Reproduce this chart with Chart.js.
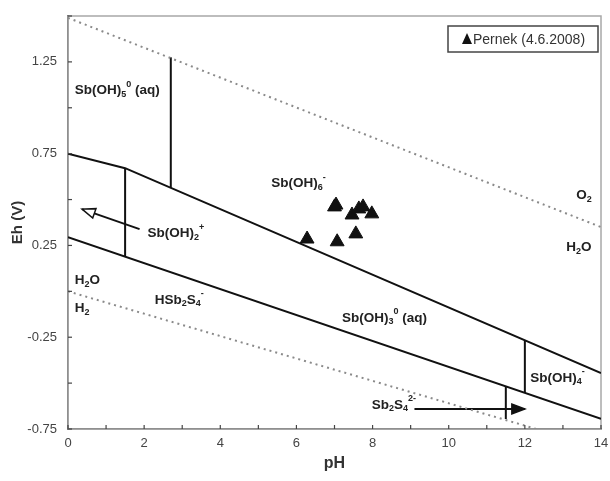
<!DOCTYPE html>
<html>
<head>
<meta charset="utf-8">
<script src="https://cdn.jsdelivr.net/npm/chart.js@4.4.0/dist/chart.umd.min.js"></script>
<style>html,body{margin:0;padding:0;background:#fff}</style>
</head>
<body>
<canvas id="ehph" width="610" height="481"></canvas>
<script>
// water stability lines (dotted)
const waterO2PH = [0, 14];
const waterO2Eh = [1.49, 0.35];
const waterH2PH = [0, 12.3];
const waterH2Eh = [0, -0.75];

// Sb(V)/Sb(III) boundary and Sb(III)/sulfide boundary
const upperPH = [0, 1.5, 14];
const upperEh = [0.75, 0.671, -0.445];
const lowerPH = [0, 14];
const lowerEh = [0.295, -0.695];

// vertical boundaries
const vert15PH = [1.5, 1.5];
const vert15Eh = [0.671, 0.189];
const vert27PH = [2.7, 2.7];
const vert27Eh = [0.564, 1.275];
const vert12PH = [12, 12];
const vert12Eh = [-0.267, -0.554];
const vert115PH = [11.5, 11.5];
const vert115Eh = [-0.518, -0.695];

// arrows
const arrowSb2S4PH = [9.1, 12.0];
const arrowSb2S4Eh = [-0.641, -0.641];
const arrowSbOH2PH = [1.88, 0.37];
const arrowSbOH2Eh = [0.339, 0.448];

// measured samples
const samplePH = [7.04, 7.0, 6.28, 7.07, 7.56, 7.46, 7.64, 7.75, 7.98];
const sampleEh = [0.47, 0.46, 0.285, 0.27, 0.313, 0.416, 0.449, 0.46, 0.422];

const xTicks = [0, 2, 4, 6, 8, 10, 12, 14];
const yTickLabels = [-0.75, -0.25, 0.25, 0.75, 1.25];

// field labels: [pH, Eh, segments]
const fieldLabels = [
  [0.18, 1.096, [['Sb(OH)', ''], ['5', 'sub'], ['0', 'sup'], [' (aq)', '']]],
  [5.34, 0.59, [['Sb(OH)', ''], ['6', 'sub'], ['-', 'sup']]],
  [2.09, 0.317, [['Sb(OH)', ''], ['2', 'sub'], ['+', 'sup']]],
  [0.18, 0.061, [['H', ''], ['2', 'sub'], ['O', '']]],
  [0.18, -0.091, [['H', ''], ['2', 'sub']]],
  [2.28, -0.047, [['HSb', ''], ['2', 'sub'], ['S', ''], ['4', 'sub'], ['-', 'sup']]],
  [7.2, -0.145, [['Sb(OH)', ''], ['3', 'sub'], ['0', 'sup'], [' (aq)', '']]],
  [12.14, -0.472, [['Sb(OH)', ''], ['4', 'sub'], ['-', 'sup']]],
  [7.98, -0.619, [['Sb', ''], ['2', 'sub'], ['S', ''], ['4', 'sub'], ['2-', 'sup']]],
  [13.35, 0.524, [['O', ''], ['2', 'sub']]],
  [13.09, 0.241, [['H', ''], ['2', 'sub'], ['O', '']]]
];

const FONT = '"Liberation Sans", Arial, sans-serif';

function pts(xs, ys) {
  return xs.map((x, i) => ({x: x, y: ys[i]}));
}

function lineSet(xs, ys, extra) {
  return Object.assign({
    data: pts(xs, ys),
    showLine: true,
    pointRadius: 0,
    borderColor: '#111',
    borderWidth: 2,
    fill: false
  }, extra || {});
}

const dotted = {borderColor: '#8a8a8a', borderDash: [2, 4], borderWidth: 2};

const datasets = [
  lineSet(waterO2PH, waterO2Eh, dotted),
  lineSet(waterH2PH, waterH2Eh, dotted),
  lineSet(upperPH, upperEh),
  lineSet(lowerPH, lowerEh),
  lineSet(vert15PH, vert15Eh),
  lineSet(vert27PH, vert27Eh),
  lineSet(vert12PH, vert12Eh),
  lineSet(vert115PH, vert115Eh),
  lineSet(arrowSb2S4PH, arrowSb2S4Eh, {arrow: 'solid'}),
  lineSet(arrowSbOH2PH, arrowSbOH2Eh, {arrow: 'open'}),
  {
    label: 'Pernek (4.6.2008)',
    data: pts(samplePH, sampleEh),
    pointStyle: 'triangle',
    pointRadius: 8,
    pointHoverRadius: 8,
    backgroundColor: '#111',
    borderColor: '#111',
    borderWidth: 1
  }
];

const diagramPlugin = {
  id: 'diagram',
  beforeDatasetsDraw(chart) {
    const {ctx, chartArea: a} = chart;
    ctx.save();
    ctx.strokeStyle = '#a8a8a8';
    ctx.lineWidth = 1.5;
    ctx.strokeRect(a.left, a.top, a.right - a.left, a.bottom - a.top);
    ctx.restore();
  },
  afterDatasetsDraw(chart) {
    const {ctx, chartArea: a} = chart;
    const xs = chart.scales.x, ys = chart.scales.y;
    ctx.save();
    // arrow heads
    chart.data.datasets.forEach((ds, i) => {
      if (!ds.arrow) return;
      const els = chart.getDatasetMeta(i).data;
      const p1 = els[els.length - 2], p2 = els[els.length - 1];
      const ang = Math.atan2(p2.y - p1.y, p2.x - p1.x);
      const L = 13, W = 5;
      ctx.beginPath();
      ctx.moveTo(p2.x, p2.y);
      ctx.lineTo(p2.x - L * Math.cos(ang) + W * Math.sin(ang), p2.y - L * Math.sin(ang) - W * Math.cos(ang));
      ctx.lineTo(p2.x - L * Math.cos(ang) - W * Math.sin(ang), p2.y - L * Math.sin(ang) + W * Math.cos(ang));
      ctx.closePath();
      ctx.lineWidth = 1.5;
      ctx.strokeStyle = '#111';
      ctx.fillStyle = ds.arrow === 'solid' ? '#111' : '#fff';
      ctx.fill();
      ctx.stroke();
    });
    // inside tick marks
    ctx.strokeStyle = '#444';
    ctx.lineWidth = 1.2;
    xs.ticks.forEach(t => {
      const px = xs.getPixelForValue(t.value);
      ctx.beginPath();
      ctx.moveTo(px, a.bottom);
      ctx.lineTo(px, a.bottom - 4);
      ctx.stroke();
    });
    ys.ticks.forEach(t => {
      const py = ys.getPixelForValue(t.value);
      ctx.beginPath();
      ctx.moveTo(a.left, py);
      ctx.lineTo(a.left + 4, py);
      ctx.stroke();
    });
    // field labels
    ctx.fillStyle = '#222';
    ctx.textBaseline = 'middle';
    ctx.textAlign = 'left';
    fieldLabels.forEach(([ph, eh, segs]) => {
      let x = xs.getPixelForValue(ph);
      const y = ys.getPixelForValue(eh);
      segs.forEach(([txt, kind]) => {
        let dy = 0;
        if (kind === 'sub') { ctx.font = 'bold 9px ' + FONT; dy = 4; }
        else if (kind === 'sup') { ctx.font = 'bold 9px ' + FONT; dy = -6; }
        else ctx.font = 'bold 13.5px ' + FONT;
        ctx.fillText(txt, x, y + dy);
        x += ctx.measureText(txt).width;
      });
    });
    // legend box
    const bx = 448, by = 26, bw = 150, bh = 26;
    ctx.strokeStyle = '#444';
    ctx.lineWidth = 1.5;
    ctx.strokeRect(bx, by, bw, bh);
    const tx = bx + 14, ty = by + bh / 2;
    ctx.fillStyle = '#111';
    ctx.beginPath();
    ctx.moveTo(tx + 5, ty - 6);
    ctx.lineTo(tx + 10, ty + 5);
    ctx.lineTo(tx, ty + 5);
    ctx.closePath();
    ctx.fill();
    ctx.fillStyle = '#333';
    ctx.font = '14px ' + FONT;
    ctx.fillText(chart.data.datasets[datasets.length - 1].label, tx + 11, ty + 1);
    ctx.restore();
  }
};

new Chart(document.getElementById('ehph'), {
  type: 'scatter',
  data: {datasets: datasets},
  options: {
    responsive: false,
    devicePixelRatio: 1,
    animation: false,
    layout: {padding: {top: 16, right: 7, left: 0, bottom: 0}},
    plugins: {legend: {display: false}, tooltip: {enabled: false}},
    scales: {
      x: {
        type: 'linear',
        min: 0,
        max: 14,
        afterFit: s => { s.height = 52; s.paddingRight = 0; s.paddingLeft = 0; },
        afterBuildTicks: s => { s.ticks = xTicks.concat([1, 3, 5, 7, 9, 11, 13]).sort((a, b) => a - b).map(v => ({value: v})); },
        ticks: {
          autoSkip: false,
          maxRotation: 0,
          padding: 7,
          color: '#444',
          font: {size: 13, family: FONT},
          callback: v => xTicks.includes(v) ? String(v) : ''
        },
        grid: {drawOnChartArea: false, drawTicks: false},
        border: {color: '#444', width: 1.5},
        title: {display: true, text: 'pH', color: '#333', font: {size: 16, weight: 'bold', family: FONT}, padding: {top: 0, bottom: 8}}
      },
      y: {
        type: 'linear',
        min: -0.75,
        max: 1.5,
        afterFit: s => { s.width = 68; s.paddingTop = 0; s.paddingBottom = 0; },
        ticks: {
          stepSize: 0.25,
          autoSkip: false,
          padding: 11,
          color: '#444',
          font: {size: 13, family: FONT},
          callback: v => yTickLabels.some(t => Math.abs(t - v) < 1e-6) ? v.toFixed(2) : ''
        },
        grid: {drawOnChartArea: false, drawTicks: false},
        border: {color: '#444', width: 1.5},
        title: {display: true, text: 'Eh (V)', color: '#333', font: {size: 15, weight: 'bold', family: FONT}, padding: {top: 9, bottom: 0}}
      }
    }
  },
  plugins: [diagramPlugin]
});
</script>
</body>
</html>
